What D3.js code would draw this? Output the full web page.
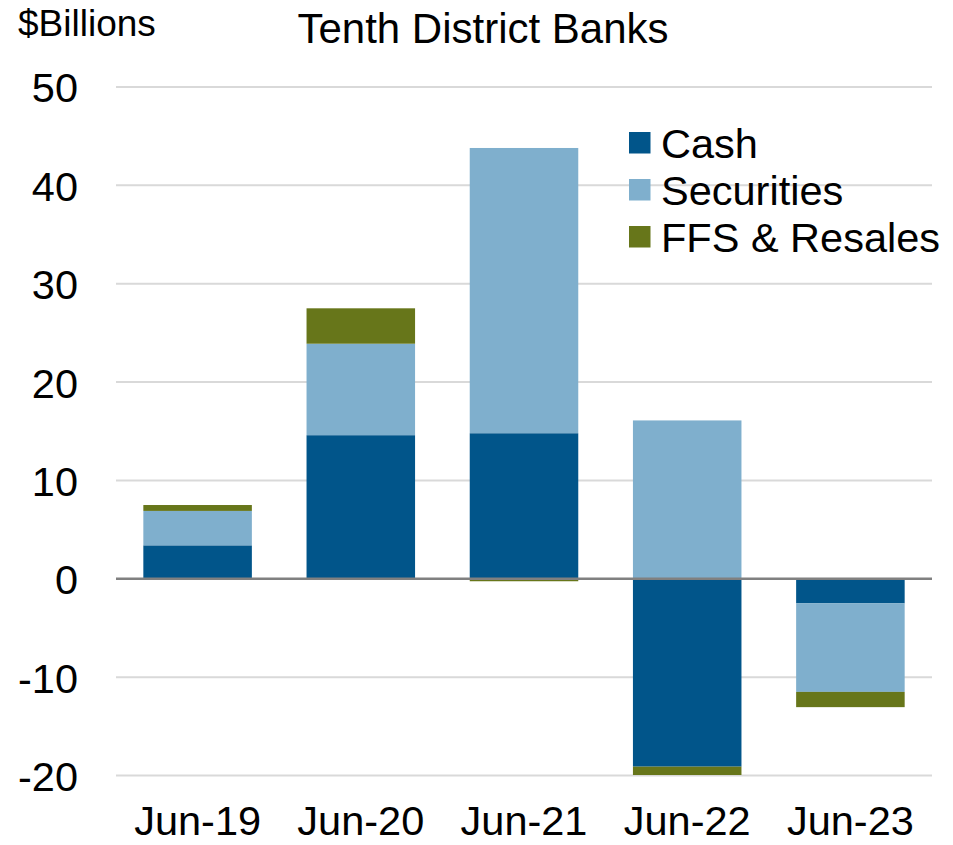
<!DOCTYPE html>
<html>
<head>
<meta charset="utf-8">
<script src="https://cdn.jsdelivr.net/npm/d3@7"></script>
<style>
  html, body { margin: 0; padding: 0; background: #fff; }
  svg { display: block; font-family: "Liberation Sans", Arial, sans-serif; }
</style>
</head>
<body>
<svg id="chart" width="953" height="845"></svg>
<script>
// Year-over-year change in liquid assets, Tenth District banks ($ billions)
const categories = ["Jun-19", "Jun-20", "Jun-21", "Jun-22", "Jun-23"];
const seriesNames = ["Cash", "Securities", "FFS & Resales"];
const cash       = [3.4, 14.6, 14.8, -19.1, -2.5];
const securities = [3.5, 9.3, 29.0, 16.1, -9.0];
const ffsResales = [0.6, 3.6, -0.25, -0.85, -1.55];
const yTicks = [-20, -10, 0, 10, 20, 30, 40, 50];
const colors = ["#01558a", "#7fafcd", "#67761a"];

const rows = categories.map((c, i) => ({
  category: c,
  "Cash": cash[i],
  "Securities": securities[i],
  "FFS & Resales": ffsResales[i]
}));

const svg = d3.select("#chart");
const plotLeft = 116, plotRight = 932, plotTop = 87, plotBottom = 775.5;

const x = d3.scaleBand().domain(categories).range([plotLeft, plotRight]).paddingInner(0.335).paddingOuter(0.1675);
const y = d3.scaleLinear().domain([-20, 50]).range([plotBottom, plotTop]);
const color = d3.scaleOrdinal().domain(seriesNames).range(colors);

// Horizontal gridlines
svg.append("g")
  .selectAll("line")
  .data(yTicks.filter(t => t !== 0))
  .join("line")
  .attr("x1", plotLeft).attr("x2", plotRight)
  .attr("y1", d => y(d)).attr("y2", d => y(d))
  .attr("stroke", "#d9d9d9").attr("stroke-width", 2);

// Y axis labels (plain hyphen for negatives)
const yAxis = d3.axisLeft(y).tickValues(yTicks).tickSize(0).tickPadding(0).tickFormat(d => String(d));
const yg = svg.append("g").attr("transform", "translate(78,0)").call(yAxis);
yg.select(".domain").remove();
yg.selectAll("text")
  .attr("font-size", 41.5).attr("fill", "#000")
  .attr("font-family", "'Liberation Sans', Arial, sans-serif")
  .attr("dy", "0.36em");

// Stacked bars (positive and negative stacked separately)
const stack = d3.stack().keys(seriesNames).offset(d3.stackOffsetDiverging);
const layers = stack(rows);

svg.append("g")
  .selectAll("g")
  .data(layers)
  .join("g")
  .attr("fill", d => color(d.key))
  .selectAll("rect")
  .data(d => d)
  .join("rect")
  .attr("x", d => x(d.data.category))
  .attr("width", x.bandwidth())
  .attr("y", d => y(Math.max(d[0], d[1])))
  .attr("height", d => Math.abs(y(d[0]) - y(d[1])));

// Zero baseline
svg.append("line")
  .attr("x1", plotLeft).attr("x2", plotRight)
  .attr("y1", y(0)).attr("y2", y(0))
  .attr("stroke", "#808080").attr("stroke-width", 2.5);

// X axis labels
const xAxis = d3.axisBottom(x).tickSize(0).tickPadding(0);
const xg = svg.append("g").attr("transform", "translate(0,835)").call(xAxis);
xg.select(".domain").remove();
xg.selectAll("text")
  .attr("font-size", 41.5).attr("fill", "#000")
  .attr("font-family", "'Liberation Sans', Arial, sans-serif")
  .attr("dy", 0);

// Titles
svg.append("text").attr("x", 18).attr("y", 36)
  .attr("font-size", 37).attr("fill", "#000").text("$Billions");
svg.append("text").attr("x", 483).attr("y", 43).attr("text-anchor", "middle")
  .attr("font-size", 42).attr("fill", "#000").text("Tenth District Banks");

// Legend
const legend = svg.append("g").attr("transform", "translate(629,132)");
const item = legend.selectAll("g").data(seriesNames).join("g")
  .attr("transform", (d, i) => `translate(0,${i * 47})`);
item.append("rect").attr("width", 21.5).attr("height", 21.5).attr("fill", d => color(d));
item.append("text").attr("x", 32).attr("y", 25.5).attr("font-size", 41.5).attr("fill", "#000").text(d => d);
</script>
</body>
</html>
